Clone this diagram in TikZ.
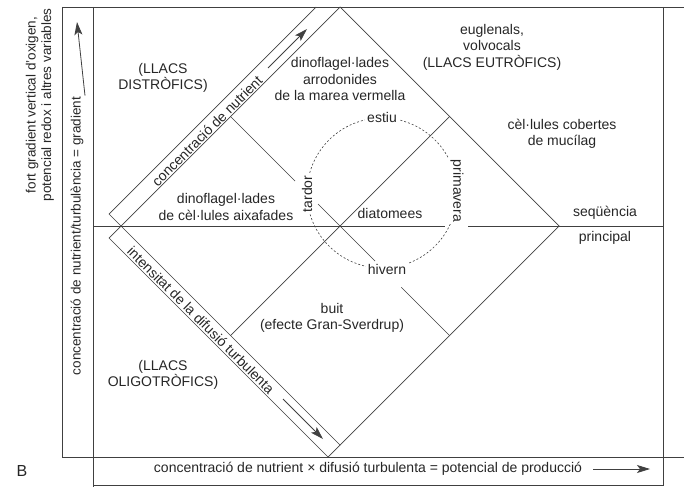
\documentclass[tikz,border=0pt]{standalone}
\usepackage{fontspec}
\setmainfont{Liberation Sans}
\usetikzlibrary{arrows.meta,positioning,calc}

\tikzset{
  region/.style={align=center, font=\fontsize{14}{16.5}\selectfont, text=black!85, inner sep=1pt},
  season/.style={fill=white, font=\fontsize{14}{16.5}\selectfont, text=black!85, inner sep=2pt},
  axislabel/.style={align=center, font=\fontsize{13.5}{15.5}\selectfont, text=black!85, inner sep=1pt},
  flow/.style={-{Stealth[length=13pt,width=8pt,inset=3pt]}, line width=0.8pt},
}

\begin{document}
\begin{tikzpicture}[x=1pt, y=-1pt, line width=0.7pt, draw=black!75]
    \useasboundingbox (0,0) rectangle (684,487);

    % Frame
    \draw (62,7) -- (684,7);
    \draw (62,7) -- (62,457) -- (684,457);
    \draw (93,7) -- (93,487);
    \draw (663,7) -- (663,485) -- (93,485);

    % Diamond
    \coordinate (top) at (340,7);
    \coordinate (right) at (559,226);
    \coordinate (bottom) at (340,445);
    \coordinate (left) at (121,226);
    \coordinate (ulmid) at ($(left)!0.5!(top)$);
    \coordinate (urmid) at ($(top)!0.5!(right)$);
    \coordinate (lrmid) at ($(right)!0.5!(bottom)$);
    \coordinate (llmid) at ($(bottom)!0.5!(left)$);
    \draw (left) -- (top) -- (right) -- (bottom) -- cycle;

    % Strips along the left edges
    \draw (left) -- (109,214) -- (316,7);
    \draw (left) -- (109,238) -- (328,457) -- (bottom);

    % Inner lines
    \draw (llmid) -- (urmid);
    \draw (ulmid) -- ($(ulmid)!0.295!(lrmid)$);
    \draw ($(ulmid)!0.40!(lrmid)$) -- ($(ulmid)!0.66!(lrmid)$);
    \draw ($(ulmid)!0.78!(lrmid)$) -- (lrmid);
    \draw (93,226) -- (445,226);
    \draw (468,226) -- (663,226);

    % Seasons
    \draw[dash pattern=on 2pt off 2pt, line width=0.6pt] (382,193) circle (75);
    \node[season] (estiu) at (382,117) {estiu};
    \node[season] (hivern) at (387,269) {hivern};
    \node[season, rotate=90] (tardor) at (307,194) {tardor};
    \node[season, rotate=-90] (primavera) at (457,191) {primavera};

    % Regions
    \node[region] (distrofics) at (163,78) {(LLACS\\DISTRÒFICS)};
    \node[region] (marea) at (340,79) {dinoflagel·lades\\arrodonides\\de la marea vermella};
    \node[region] (eutrofics) at (492,47) {euglenals,\\volvocals\\(LLACS EUTRÒFICS)};
    \node[region] (mucilag) at (562,134) {cèl·lules cobertes\\de mucílag};
    \node[region] (aixafades) at (226,207) {dinoflagel·lades\\de cèl·lules aixafades};
    \node[region] (diatomees) at (390,213) {diatomees};
    \node[region] (sequencia) at (605,213) {seqüència};
    \node[region] (principal) at (605,238) {principal};
    \node[region] (buit) at (332,318) {buit\\(efecte Gran-Sverdrup)};
    \node[region] (oligotrofics) at (163,375) {(LLACS\\OLIGOTRÒFICS)};

    % Strip labels
    \node[region, rotate=45] (nutrient) at (207,131) {concentració de nutrient};
    \coordinate (nutstart) at (268,68);
    \coordinate (nuttip) at (307,29);
    \draw[flow] (nutstart) -- (nuttip);
    \node[region, rotate=-45] (turbulencia) at (201,320) {intensitat de la difusió turbulenta};
    \coordinate (turbstart) at (283,399);
    \coordinate (turbtip) at (323,439);
    \draw[flow] (turbstart) -- (turbtip);

    % Axes
    \node[axislabel, rotate=90] (gradient) at (77,236) {concentració de nutrient/turbulència = gradient};
    \coordinate (gradtip) at (77,22);
    \draw[flow] ([xshift=8pt]gradient.east) -- (gradtip);
    \node[axislabel, rotate=90] (oxigen) at (40,105) {fort gradient vertical d'oxigen,\\potencial redox i altres variables};
    \node[region] (produccio) at (368,469) {concentració de nutrient × difusió turbulenta = potencial de producció};
    \coordinate (prodtip) at (650,469);
    \draw[flow] ([xshift=10pt]produccio.east) -- (prodtip);
    \node[region, font=\fontsize{16}{18}\selectfont] (panel) at (22,471) {B};
\end{tikzpicture}
\end{document}
